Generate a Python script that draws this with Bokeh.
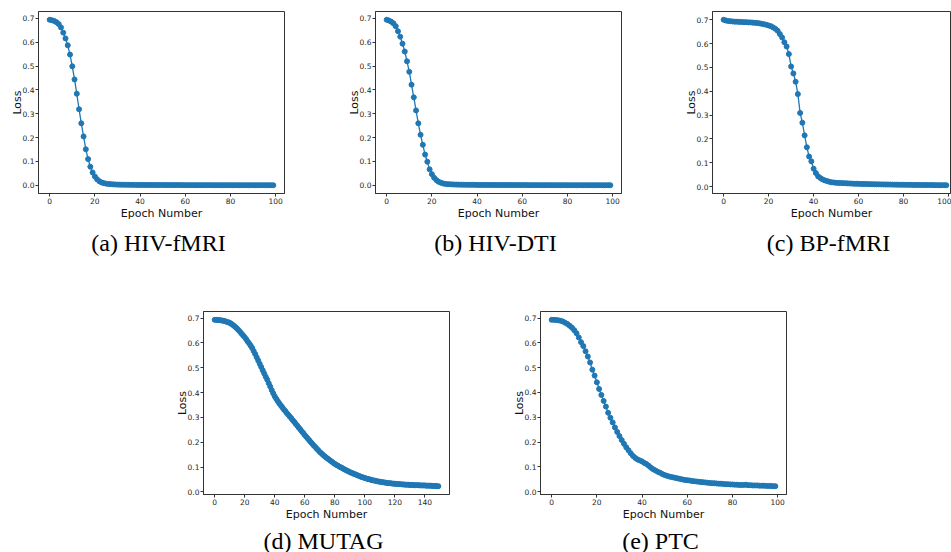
from bokeh.plotting import figure
from bokeh.layouts import column, row
from bokeh.models import Range1d, FixedTicker, PrintfTickFormatter, Title, Spacer
from bokeh.embed import file_html
from bokeh.resources import INLINE

# ---------------- data ----------------
epochs_100 = list(range(100))
epochs_150 = list(range(150))

hiv_fmri = [
    0.694, 0.692, 0.689, 0.684, 0.676, 0.662, 0.640, 0.616, 0.587, 0.548,
    0.499, 0.444, 0.384, 0.319, 0.260, 0.205, 0.151, 0.110, 0.078, 0.054,
    0.037, 0.025, 0.017, 0.012, 0.009, 0.007, 0.006, 0.005, 0.004, 0.0035,
    0.0030, 0.0028, 0.0026, 0.0024, 0.0023, 0.0021, 0.0020, 0.0019, 0.0018, 0.0017,
    0.0016, 0.0016, 0.0015, 0.0014, 0.0014, 0.0013, 0.0013, 0.0012, 0.0012, 0.0011,
    0.0011, 0.0011, 0.0010, 0.0010, 0.0010, 0.0009, 0.0009, 0.0009, 0.0009, 0.0008,
    0.0008, 0.0008, 0.0008, 0.0008, 0.0008, 0.0007, 0.0007, 0.0007, 0.0007, 0.0007,
    0.0007, 0.0007, 0.0007, 0.0006, 0.0006, 0.0006, 0.0006, 0.0006, 0.0006, 0.0006,
    0.0006, 0.0006, 0.0006, 0.0005, 0.0005, 0.0005, 0.0005, 0.0005, 0.0005, 0.0005,
    0.0005, 0.0005, 0.0005, 0.0005, 0.0005, 0.0004, 0.0004, 0.0004, 0.0004, 0.0004,
]

hiv_dti = [
    0.694, 0.691, 0.686, 0.679, 0.667, 0.646, 0.623, 0.594, 0.561, 0.520,
    0.476, 0.422, 0.369, 0.314, 0.260, 0.212, 0.170, 0.129, 0.099, 0.067,
    0.047, 0.032, 0.022, 0.015, 0.011, 0.008, 0.006, 0.005, 0.0045, 0.0040,
    0.0035, 0.0032, 0.0030, 0.0028, 0.0026, 0.0025, 0.0023, 0.0022, 0.0021, 0.0020,
    0.0019, 0.0018, 0.0018, 0.0017, 0.0016, 0.0016, 0.0015, 0.0015, 0.0014, 0.0014,
    0.0013, 0.0013, 0.0013, 0.0012, 0.0012, 0.0012, 0.0011, 0.0011, 0.0011, 0.0010,
    0.0010, 0.0010, 0.0010, 0.0009, 0.0009, 0.0009, 0.0009, 0.0009, 0.0008, 0.0008,
    0.0008, 0.0008, 0.0008, 0.0008, 0.0007, 0.0007, 0.0007, 0.0007, 0.0007, 0.0007,
    0.0007, 0.0006, 0.0006, 0.0006, 0.0006, 0.0006, 0.0006, 0.0006, 0.0006, 0.0006,
    0.0005, 0.0005, 0.0005, 0.0005, 0.0005, 0.0005, 0.0005, 0.0005, 0.0005, 0.0005,
]

bp_fmri = [
    0.700, 0.697, 0.695, 0.694, 0.693, 0.692, 0.692, 0.691, 0.691, 0.690,
    0.690, 0.689, 0.689, 0.688, 0.687, 0.686, 0.685, 0.683, 0.681, 0.679,
    0.676, 0.673, 0.668, 0.662, 0.654, 0.640, 0.626, 0.606, 0.588, 0.556,
    0.504, 0.475, 0.440, 0.388, 0.309, 0.268, 0.215, 0.165, 0.126, 0.106,
    0.075, 0.057, 0.043, 0.036, 0.030, 0.026, 0.023, 0.020, 0.018, 0.017,
    0.0160, 0.0155, 0.0150, 0.0145, 0.0140, 0.0135, 0.0130, 0.0125, 0.0120, 0.0118,
    0.0115, 0.0112, 0.0110, 0.0107, 0.0105, 0.0102, 0.0100, 0.0098, 0.0096, 0.0094,
    0.0092, 0.0090, 0.0088, 0.0087, 0.0085, 0.0083, 0.0082, 0.0080, 0.0079, 0.0077,
    0.0076, 0.0075, 0.0073, 0.0072, 0.0071, 0.0070, 0.0069, 0.0068, 0.0067, 0.0066,
    0.0065, 0.0064, 0.0063, 0.0062, 0.0061, 0.0060, 0.0059, 0.0058, 0.0058, 0.0057,
]

mutag = [
    0.693, 0.693, 0.692, 0.692, 0.691, 0.690, 0.689, 0.687, 0.685, 0.683,
    0.681, 0.677, 0.673, 0.668, 0.663, 0.657, 0.651, 0.644, 0.637, 0.630,
    0.623, 0.615, 0.606, 0.598, 0.589, 0.579, 0.567, 0.555, 0.542, 0.529,
    0.516, 0.503, 0.490, 0.477, 0.464, 0.452, 0.438, 0.424, 0.410, 0.397,
    0.385, 0.375, 0.366, 0.357, 0.349, 0.341, 0.333, 0.326, 0.318, 0.311,
    0.304, 0.297, 0.289, 0.282, 0.274, 0.267, 0.259, 0.252, 0.244, 0.237,
    0.229, 0.222, 0.215, 0.208, 0.201, 0.194, 0.187, 0.181, 0.174, 0.168,
    0.161, 0.156, 0.150, 0.145, 0.140, 0.135, 0.131, 0.126, 0.122, 0.117,
    0.113, 0.109, 0.106, 0.102, 0.099, 0.096, 0.092, 0.089, 0.086, 0.083,
    0.080, 0.077, 0.075, 0.072, 0.070, 0.067, 0.065, 0.062, 0.060, 0.058,
    0.056, 0.054, 0.052, 0.051, 0.049, 0.047, 0.046, 0.045, 0.043, 0.042,
    0.041, 0.040, 0.039, 0.038, 0.037, 0.036, 0.035, 0.035, 0.034, 0.033,
    0.033, 0.032, 0.032, 0.031, 0.031, 0.030, 0.030, 0.029, 0.029, 0.029,
    0.028, 0.028, 0.028, 0.027, 0.027, 0.027, 0.027, 0.026, 0.026, 0.026,
    0.026, 0.025, 0.025, 0.025, 0.025, 0.024, 0.024, 0.024, 0.023, 0.023,
]

ptc = [
    0.693, 0.693, 0.692, 0.691, 0.689, 0.686, 0.681, 0.676, 0.669, 0.661,
    0.651, 0.639, 0.622, 0.603, 0.587, 0.566, 0.545, 0.521, 0.492, 0.468,
    0.441, 0.414, 0.390, 0.366, 0.343, 0.318, 0.298, 0.279, 0.259, 0.241,
    0.224, 0.208, 0.193, 0.179, 0.167, 0.155, 0.144, 0.136, 0.130, 0.126,
    0.122, 0.116, 0.111, 0.104, 0.096, 0.090, 0.085, 0.080, 0.076, 0.071,
    0.067, 0.064, 0.061, 0.059, 0.057, 0.055, 0.053, 0.051, 0.049, 0.047,
    0.046, 0.045, 0.043, 0.042, 0.041, 0.040, 0.039, 0.038, 0.037, 0.036,
    0.035, 0.034, 0.034, 0.033, 0.032, 0.032, 0.031, 0.030, 0.030, 0.029,
    0.029, 0.028, 0.028, 0.027, 0.027, 0.027, 0.028, 0.026, 0.026, 0.025,
    0.025, 0.025, 0.024, 0.024, 0.024, 0.023, 0.023, 0.023, 0.022, 0.022,
]

ticks_100 = [0, 20, 40, 60, 80, 100]
ticks_150 = [0, 20, 40, 60, 80, 100, 120, 140]
loss_ticks = [0.0, 0.1, 0.2, 0.3, 0.4, 0.5, 0.6, 0.7]

captions = ["(a)  HIV-fMRI", "(b)  HIV-DTI", "(c)  BP-fMRI", "(d)  MUTAG", "(e)  PTC"]

BLUE = "#1f77b4"
FRAME = "#333333"
TICKC = "#262626"


def make_fig(x, y, xticks, caption, frame_w, frame_h, left, right, top, bottom,
             x_range=None, standoff=10):
    lo, hi = min(y), max(y)
    pad = 0.05 * (hi - lo)
    if x_range is None:
        xpad = 0.05 * (max(x) - min(x))
        x_range = Range1d(min(x) - xpad, max(x) + xpad)
    p = figure(frame_width=frame_w, frame_height=frame_h,
               min_border_left=left, min_border_right=right,
               min_border_top=top, min_border_bottom=bottom,
               x_range=x_range, y_range=Range1d(lo - pad, hi + pad),
               output_backend="svg", toolbar_location=None,
               background_fill_color="white", border_fill_color="white")
    p.grid.visible = False
    p.outline_line_color = FRAME
    p.outline_line_width = 1
    p.xaxis.ticker = FixedTicker(ticks=xticks)
    p.yaxis.ticker = FixedTicker(ticks=loss_ticks)
    p.yaxis.formatter = PrintfTickFormatter(format="%.1f")
    for ax in (p.xaxis, p.yaxis):
        ax.axis_line_color = FRAME
        ax.major_tick_line_color = FRAME
        ax.major_tick_out = 3
        ax.major_tick_in = 0
        ax.minor_tick_line_color = None
        ax.major_label_text_font = "DejaVu Sans"
        ax.major_label_text_font_size = "7.5px"
        ax.major_label_text_color = TICKC
        ax.major_label_standoff = 1
        ax.axis_label_text_font = "DejaVu Sans"
        ax.axis_label_text_font_size = "11px"
        ax.axis_label_text_font_style = "normal"
        ax.axis_label_text_color = "#111111"
        ax.axis_label_standoff = 0
    p.yaxis.axis_label_standoff = -4
    p.xaxis.axis_label = "Epoch Number"
    p.yaxis.axis_label = "Loss"
    p.line(x, y, line_color=BLUE, line_width=1.3)
    p.scatter(x, y, size=5, fill_color=BLUE, line_color=BLUE)
    t = Title(text=caption, align="center", text_font="Liberation Serif",
              text_font_size="24px", text_font_style="normal", text_color="black",
              standoff=standoff)
    p.add_layout(t, "below")
    return p


fa = make_fig(epochs_100, hiv_fmri, ticks_100, captions[0], 246, 182, 38, 53, 11, 115)
fb = make_fig(epochs_100, hiv_dti, ticks_100, captions[1], 246, 182, 38, 53, 11, 115)
fc = make_fig(epochs_100, bp_fmri, ticks_100, captions[2], 238, 182, 38, 1, 11, 115,
              x_range=Range1d(-4.95, 100.85))
fd = make_fig(epochs_150, mutag, ticks_150, captions[3], 246, 183, 38, 53, 3, 57, standoff=4)
fe = make_fig(epochs_100, ptc, ticks_100, captions[4], 246, 183, 38, 20, 3, 57, standoff=4)

layout = column(row(fa, fb, fc), row(Spacer(width=165, height=10), fd, fe))

open("out.html", "w").write(file_html(layout, INLINE))
